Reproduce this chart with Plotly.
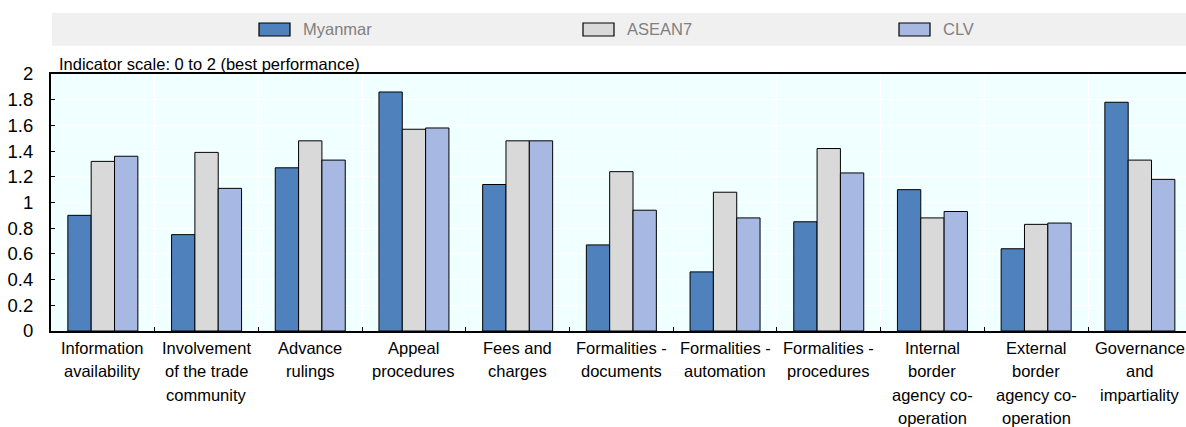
import plotly.graph_objects as go

categories = [
    "Information<br>availability",
    "Involvement<br>of the trade<br>community",
    "Advance<br>rulings",
    "Appeal<br>procedures",
    "Fees and<br>charges",
    "Formalities -<br>documents",
    "Formalities -<br>automation",
    "Formalities -<br>procedures",
    "Internal<br>border<br>agency co-<br>operation",
    "External<br>border<br>agency co-<br>operation",
    "Governance<br>and<br>impartiality",
]
myanmar = [0.90, 0.75, 1.27, 1.86, 1.14, 0.67, 0.46, 0.85, 1.10, 0.64, 1.78]
asean7 = [1.32, 1.39, 1.48, 1.57, 1.48, 1.24, 1.08, 1.42, 0.88, 0.83, 1.33]
clv = [1.36, 1.11, 1.33, 1.58, 1.48, 0.94, 0.88, 1.23, 0.93, 0.84, 1.18]

series_names = ["Myanmar", "ASEAN7", "CLV"]
series_values = [myanmar, asean7, clv]
series_colors = ["#4F81BD", "#D9D9D9", "#A7B9E3"]
legend_swatch_px = [259, 583, 899]   # left pixel of each legend swatch

FONT = "Liberation Sans, Arial, sans-serif"
FS = 16.5
W, H = 1186, 427
ML, MR, MT, MB = 51, 0, 74, 96
plot_w = W - ML - MR
plot_h = H - MT - MB
px_per_cat = 103.7


def px_x(px):
    return (px - ML) / plot_w


def px_y(py):
    return 1 + (MT - py) / plot_h


fig = go.Figure()
for name, vals, col in zip(series_names, series_values, series_colors):
    fig.add_trace(go.Bar(
        x=categories, y=vals, name=name, showlegend=False,
        marker=dict(color=col, line=dict(color="#000000", width=1)),
    ))

shapes = [dict(type="rect", xref="paper", yref="paper",
               x0=px_x(52), x1=1, y0=px_y(45.7), y1=px_y(13),
               fillcolor="#F0F0F0", line=dict(width=0), layer="below")]
annotations = [
    dict(text="Indicator scale: 0 to 2 (best performance)", xref="paper", yref="paper",
         x=px_x(57), y=1, xanchor="left", yanchor="bottom", yshift=-1, showarrow=False,
         font=dict(family=FONT, size=FS, color="#000000")),
]
for name, col, sx in zip(series_names, series_colors, legend_swatch_px):
    shapes.append(dict(type="rect", xref="paper", yref="paper",
                       x0=px_x(sx), x1=px_x(sx + 31), y0=px_y(36), y1=px_y(23),
                       fillcolor=col, line=dict(color="#000000", width=1.2)))
    annotations.append(dict(text=name, xref="paper", yref="paper",
                            x=px_x(sx + 42), y=px_y(29.5), xanchor="left", yanchor="middle",
                            showarrow=False, font=dict(family=FONT, size=FS, color="#808080")))

for cat in categories:
    for i, line in enumerate(cat.split("<br>")):
        annotations.append(dict(
            text=line, xref="x", yref="paper", x=cat, y=0,
            xanchor="center", yanchor="top", yshift=-6 - i * 23.3,
            showarrow=False, font=dict(family=FONT, size=FS, color="#000000"),
        ))

fig.update_layout(
    width=W, height=H,
    margin=dict(l=ML, r=MR, t=MT, b=MB, pad=0, autoexpand=False),
    paper_bgcolor="#FFFFFF", plot_bgcolor="#F0FFFF",
    barmode="group", bargap=0.325, bargroupgap=0,
    showlegend=False,
    font=dict(family=FONT, size=FS, color="#000000"),
    shapes=shapes,
    annotations=annotations,
)
fig.update_xaxes(
    type="category", range=[-0.5, -0.5 + plot_w / px_per_cat],
    tickson="boundaries", ticks="inside", ticklen=4, tickcolor="#000000",
    showticklabels=False, showgrid=True, gridcolor="#FFFFFF", gridwidth=1,
    showline=True, linecolor="#000000", linewidth=2, mirror=True,
)
fig.update_yaxes(
    range=[0, 2], dtick=0.2, tick0=0, ticks="inside", ticklen=4, tickcolor="#000000",
    showgrid=True, gridcolor="#FFFFFF", gridwidth=1, zeroline=False,
    showline=True, linecolor="#000000", linewidth=2,
    ticklabelstandoff=12, tickfont=dict(family=FONT, size=18.5, color="#000000"),
)

fig.write_html("out.html", config={"displayModeBar": False},
               post_script="document.body.style.margin='0px';")
